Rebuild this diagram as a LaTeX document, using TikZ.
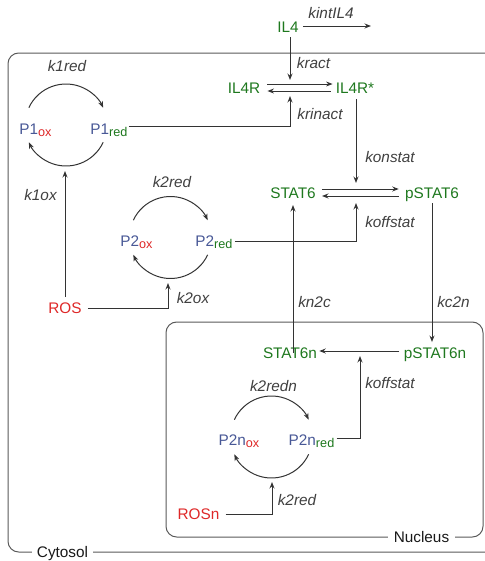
\documentclass[tikz,border=0pt]{standalone}
\usepackage{fontspec}
\setmainfont{Liberation Sans}
\usetikzlibrary{arrows.meta,calc}
\definecolor{spgreen}{RGB}{30,120,30}
\definecolor{spblue}{RGB}{72,88,150}
\definecolor{spred}{RGB}{222,40,40}
\definecolor{lblgray}{RGB}{64,64,64}
\newcommand{\lowsub}[2]{\raisebox{-1.8pt}{\fontsize{9.5}{10}\selectfont\color{#1}#2}}

\begin{document}
\begin{tikzpicture}[x=0.75pt,y=0.75pt,
  font=\fontsize{11.5}{13}\selectfont,>={Stealth[length=1.7mm,width=1.3mm]},
  spc/.style={inner sep=0pt,anchor=base,spgreen},
  prx/.style={inner sep=0pt,anchor=base,spblue},
  ros/.style={inner sep=0pt,anchor=base,spred},
  rate/.style={inner sep=0pt,anchor=base,lblgray,font=\fontsize{11.5}{13}\selectfont\itshape},
  comp/.style={draw=black!65,rounded corners=8pt,line width=0.75pt},
  clbl/.style={inner xsep=4pt,inner ysep=1pt,anchor=base,fill=white,text=black!90},
  flow/.style={->,line width=0.75pt,black!80},
]
\useasboundingbox (0,0) rectangle (485,-561);
\clip (0,0) rectangle (485,-561);

\draw[comp] (8,-53) rectangle (498,-552);
\draw[comp] (166,-322) rectangle (483,-537);
\node[clbl] (cytosol) at (62.5,-557) {Cytosol};
\node[clbl] (nucleus) at (421.5,-542) {Nucleus};

\node[spc] (il4) at (288,-32) {IL4};
\node[spc] (il4r) at (244,-93) {IL4R};
\node[spc] (il4rs) at (355,-93) {IL4R*};
\node[spc] (stat6) at (293,-198) {STAT6};
\node[spc] (pstat6) at (432,-198) {pSTAT6};
\node[spc] (stat6n) at (290,-358) {STAT6n};
\node[spc] (pstat6n) at (435,-358) {pSTAT6n};
\node[prx] (p1ox) at (35.5,-134) {P1\lowsub{spred}{ox}};
\node[prx] (p1red) at (109,-134) {P1\lowsub{spgreen}{red}};
\node[prx] (p2ox) at (136.5,-246) {P2\lowsub{spred}{ox}};
\node[prx] (p2red) at (214,-246) {P2\lowsub{spgreen}{red}};
\node[prx] (p2nox) at (239,-445) {P2n\lowsub{spred}{ox}};
\node[prx] (p2nred) at (311.5,-445) {P2n\lowsub{spgreen}{red}};
\node[ros] (ros) at (65,-313) {ROS};
\node[ros] (rosn) at (198.5,-519) {ROSn};

\node[rate] (kintil4) at (331,-18) {kintIL4};
\node[rate] (kract) at (313.5,-68) {kract};
\node[rate] (krinact) at (320,-119) {krinact};
\node[rate] (k1red) at (67,-71) {k1red};
\node[rate] (k1ox) at (40.5,-200) {k1ox};
\node[rate] (konstat) at (390,-162) {konstat};
\node[rate] (k2red) at (172,-187) {k2red};
\node[rate] (koffstat) at (390,-227) {koffstat};
\node[rate] (k2ox) at (193,-303) {k2ox};
\node[rate] (kn2c) at (314.5,-307) {kn2c};
\node[rate] (kc2n) at (453.5,-307) {kc2n};
\node[rate] (koffstatn) at (390,-388) {koffstat};
\node[rate] (k2redn) at (273.5,-391) {k2redn};
\node[rate] (k2rednuc) at (297,-505) {k2red};

\coordinate (degr) at (371,-26);
\coordinate (ract) at (290,-80);
\coordinate (rinact) at (290,-96);
\coordinate (onstat) at (356,-183);
\coordinate (offstat) at (356,-203);
\coordinate (offstatn) at (360,-356);
\coordinate (ox1) at (65,-171);
\coordinate (ox2) at (168,-283);
\coordinate (redn) at (272,-482);
\coordinate (loopA) at (66,-125);
\coordinate (loopB) at (170.5,-237.5);
\coordinate (loopC) at (271.5,-437);

\draw[flow] ($(il4.base east)+(4,6)$) -- (degr);
\draw[flow] ($(il4.south)+(2,-5)$) -- (ract);
\draw[flow] ($(il4r.base east)+(7,9)$) -- ($(il4rs.base west)+(-3,9)$);
\draw[flow] ($(il4rs.base west)+(-5,2)$) -- ($(il4r.base east)+(7,2)$);
\draw[flow] ($(p1red.base east)+(1,8)$) -| (rinact);
\draw[flow] ($(il4rs.south)+(1,-6)$) -- (onstat);
\draw[flow] ($(stat6.base east)+(6,9)$) -- ($(pstat6.base west)+(-6,9)$);
\draw[flow] ($(pstat6.base west)+(-6,2)$) -- ($(stat6.base east)+(6,2)$);
\draw[flow] ($(p2red.base east)+(2,5)$) -| (offstat);
\draw[flow] ($(stat6n.north -| stat6.base)+(0,-6)$) -- ($(stat6.base)+(0,-7)$);
\draw[flow] ($(pstat6.base)+(0,-5)$) -- ($(pstat6n.north -| pstat6.base)+(0,5)$);
\draw[flow] ($(pstat6n.base west)+(-4,7)$) -- ($(stat6n.base east)+(2,7)$);
\draw[flow] ($(p2nred.base east)+(2,7)$) -| (offstatn);
\draw[flow] ($(ros.north)+(0,5)$) -- (ox1);
\draw[flow] ($(ros.base east)+(6,5)$) -| (ox2);
\draw[flow] ($(rosn.base east)+(6,5)$) -| (redn);

\foreach \lp in {loopA,loopB,loopC}{
  \draw[flow] ($(\lp)+(155:41)$) arc[start angle=155,end angle=25,radius=41];
  \draw[flow] ($(\lp)+(-25:41)$) arc[start angle=-25,end angle=-155,radius=41];
}
\end{tikzpicture}
\end{document}
